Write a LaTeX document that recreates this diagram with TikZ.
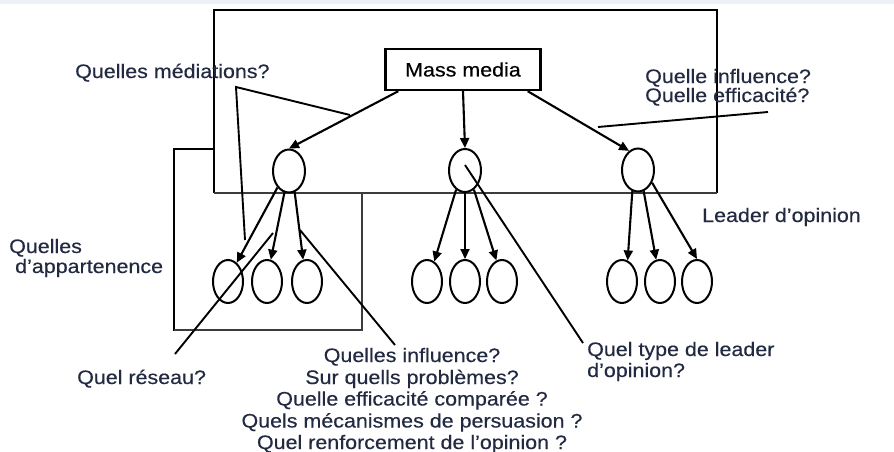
\documentclass[tikz,border=0pt]{standalone}
\usepackage{fontspec}
\setmainfont[FakeStretch=1.1,FakeBold=0.4]{Liberation Sans}
\usetikzlibrary{shapes.geometric,arrows.meta}
\definecolor{txt}{RGB}{34,42,66}
\definecolor{thin}{RGB}{60,60,60}
\begin{document}
\begin{tikzpicture}[x=1pt,y=-1pt,
  lbl/.style={inner sep=0pt,text=txt,font=\fontsize{19.5}{21.8}\selectfont},
  oval/.style={draw,ellipse,line width=2pt,inner sep=0pt,minimum width=30pt,minimum height=43pt},
  topoval/.style={oval,minimum width=32pt,minimum height=43pt},
  arr/.style={line width=2.1pt,-{Triangle[length=10pt,width=9pt]}},
  note/.style={line width=1.9pt},
  thick2/.style={line width=2.6pt},
  thin2/.style={line width=1.6pt,draw=thin}]
\useasboundingbox (0,0) rectangle (894,452);
\fill[fill={rgb,255:red,238;green,240;blue,248}] (0,0) rectangle (894,4);
% frames
\draw[thick2] (214,193) -- (214,10) -- (717,10) -- (717,193);
\draw[thin2] (214,193) -- (717,193);
\draw[thick2] (214,149) -- (174,149) -- (174,331);
\draw[thin2] (362,193) -- (362,330) -- (174,330);
% mass media
\node[draw,line width=2.4pt,minimum width=155pt,minimum height=41pt,inner sep=0pt,font=\fontsize{19.5}{21.8}\selectfont] (mm) at (463,69.5) {Mass media};
% ellipses
\node[topoval] (L1) at (289,171) {};
\node[topoval] (M1) at (465,170.5) {};
\node[topoval] (R1) at (638,170) {};
\node[oval] (a1) at (228,281.5) {};
\node[oval] (a2) at (267,281.5) {};
\node[oval] (a3) at (307,281.5) {};
\node[oval] (b1) at (427,281.5) {};
\node[oval] (b2) at (465,281.5) {};
\node[oval] (b3) at (502,281.5) {};
\node[oval] (c1) at (622,281.5) {};
\node[oval] (c2) at (660,281.5) {};
\node[oval] (c3) at (697,281.5) {};
% arrows
\draw[arr] ([xshift=14pt]mm.south west) -- (L1.north);
\draw[arr] (mm.south) -- (M1.north);
\draw[arr] ([xshift=-14pt]mm.south east) -- (R1.115);
\draw[arr] (L1.235) -- (a1.65);
\draw[arr] (L1.258) -- (a2.80);
\draw[arr] (L1.285) -- (a3.100);
\draw[arr] (M1.245) -- (b1.70);
\draw[arr] (M1.south) -- (b2.north);
\draw[arr] (M1.295) -- (b3.105);
\draw[arr] (R1.255) -- (c1.75);
\draw[arr] (R1.285) -- (c2.100);
\draw[arr] (R1.318) -- (c3.north);
% labels
\node[lbl,anchor=base west] (med) at (75,78) {Quelles médiations?};
\node[lbl,anchor=base west] (inf1) at (645,83) {Quelle influence?};
\node[lbl,anchor=base west] (inf2) at (645,102) {Quelle efficacité?};
\node[lbl,anchor=base west] (lead) at (702,222) {Leader d’opinion};
\node[lbl,anchor=base west] (app1) at (9,253) {Quelles};
\node[lbl,anchor=base west] (app2) at (15,273) {d’appartenence};
\node[lbl,anchor=base west] (res) at (77,384) {Quel réseau?};
\node[lbl,anchor=base west] (typ1) at (587,356) {Quel type de leader};
\node[lbl,anchor=base west] (typ2) at (587,377) {d’opinion?};
\node[lbl,anchor=base] (q1) at (412,362) {Quelles influence?};
\node[lbl,anchor=base] (q2) at (412,384) {Sur quells problèmes?};
\node[lbl,anchor=base] (q3) at (412,405.5) {Quelle efficacité comparée ?};
\node[lbl,anchor=base] (q4) at (412,427.5) {Quels mécanismes de persuasion ?};
\node[lbl,anchor=base] (q5) at (412,449) {Quel renforcement de l’opinion ?};
% annotation lines
\coordinate (medApex) at (236,87);
\coordinate (medA) at (350,115);
\coordinate (medB) at (245,240);
\draw[note] (medA) -- (medApex) -- (medB);
\coordinate (infA) at (768,112);
\coordinate (infB) at (598,127);
\draw[note] (infA) -- (infB);
\coordinate (resA) at (175,354);
\coordinate (resB) at (273,233);
\draw[note] (resA) -- (resB);
\coordinate (qA) at (300,230);
\coordinate (qB) at (395,345);
\draw[note] (qA) -- (qB);
\coordinate (typA) at (583,343);
\coordinate (typB) at (465,165);
\draw[note] (typA) -- (typB);
\end{tikzpicture}
\end{document}
